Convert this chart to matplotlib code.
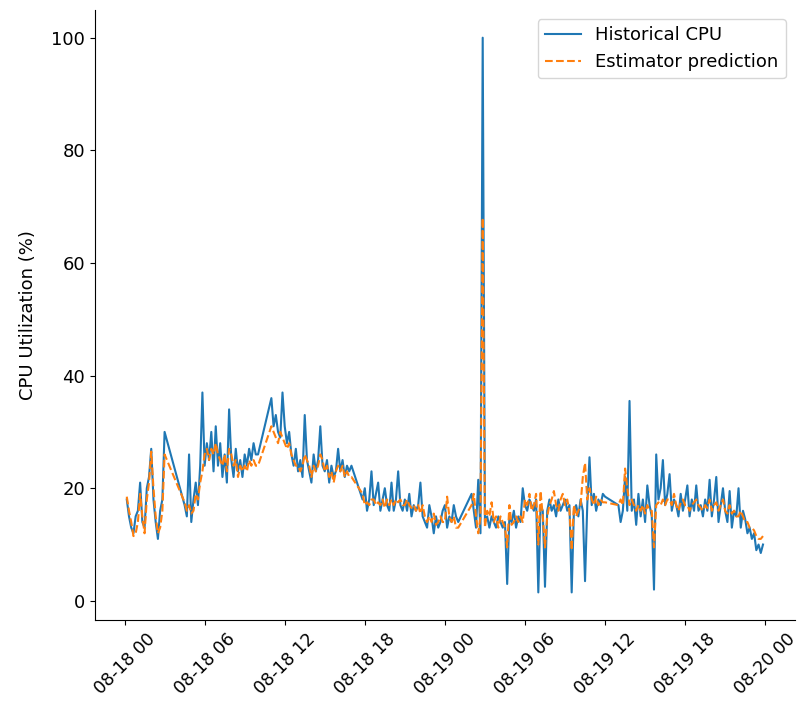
import pandas as pd
import matplotlib
matplotlib.use("Agg")
import matplotlib.pyplot as plt
import matplotlib.dates as mdates

# 10-minute samples, split where the monitoring data has gaps
seg_starts = ["2023-08-18 00:10", "2023-08-18 04:30", "2023-08-18 11:00",
              "2023-08-18 17:50", "2023-08-19 02:00", "2023-08-19 13:00"]

hist_1 = [18, 15, 13, 12, 15,
          16, 21, 14, 13, 20, 22,
          27, 18, 14, 11, 16, 18,
          30]
pred_1 = [18.5, 16, 14, 11.5, 12,
          14, 19, 15, 12, 18, 21,
          26.5, 20, 15, 12, 13, 16,
          26]

hist_2 = [17, 15, 26,
          14, 18, 21, 17, 24, 37,
          24, 28, 25, 30, 23, 31,
          24, 28, 22, 26, 21, 34,
          25, 22, 27, 23, 25, 22,
          26, 24, 27, 25, 28, 26,
          26]
pred_2 = [17.5, 16, 17,
          15.5, 16, 19, 18, 21, 23,
          26, 27, 25, 27, 26, 28,
          26, 25, 24, 26, 23, 27,
          26, 24, 25, 22, 24, 23,
          24, 23, 25, 24, 25, 24,
          24]

hist_3 = [36, 31, 33, 30, 29, 37,
          31, 28, 30, 26, 24, 27,
          23, 25, 22, 33, 25, 23,
          21, 26, 23, 25, 31, 24,
          23, 25, 21, 24, 22, 23,
          27, 23, 25, 22, 24, 23,
          24]
pred_3 = [31, 30, 29, 28, 30, 29,
          28, 27, 28, 26, 25, 24,
          24, 23, 24, 26, 25, 24,
          22, 24, 23, 24, 26, 25,
          23, 24, 22, 23, 21, 23,
          24, 23, 24, 22, 23, 22,
          22]

hist_4 = [18,
          20, 16, 18, 23, 17, 19,
          21, 16, 18, 20, 17, 16,
          21, 16, 18, 23, 17, 16,
          18, 16, 19, 15, 17, 16,
          17, 21, 15, 14, 13, 17,
          15, 12, 15, 13, 14, 16,
          17, 13, 15, 14, 17, 15,
          14]
pred_4 = [19,
          17, 17.5, 17, 18, 18, 17,
          17.5, 17, 18, 16.5, 18, 17,
          18, 17, 18, 17.5, 18, 17,
          17, 18, 17, 16.5, 17, 16,
          17, 15.5, 17, 15, 14, 15,
          14, 15.5, 13.5, 14, 15, 14,
          14, 18.5, 15, 14, 15, 13,
          13]

hist_5 = [19, 16, 13, 21.5, 12, 100,
          14, 15, 13, 15, 14, 13,
          15, 14, 13, 14, 3, 15,
          14, 16, 13, 15, 14, 20,
          17, 16, 18, 17, 16, 18,
          1.5, 17, 16, 2.5, 16, 18,
          16, 17, 15, 18, 16, 17,
          18, 16, 17, 1.5, 16, 17,
          15, 18, 16, 3.5, 17, 25.5,
          17, 19, 16, 18, 17, 19,
          18.5]
pred_5 = [17, 19, 15, 12, 15, 68,
          13, 16, 15, 17.5, 14, 15,
          13, 15, 14, 13, 9.5, 17,
          13.5, 14, 15, 14, 15, 14,
          18, 17, 19, 16, 17, 19,
          10, 19.5, 15, 9.5, 15, 17,
          18, 19.5, 17, 16, 18, 19,
          17, 18, 16, 9, 17, 15,
          16, 17, 22, 24.5, 18, 20,
          18, 17, 18.5, 17, 18, 17.5,
          17.5]

hist_6 = [17, 14, 16, 22, 16, 35.5,
          16, 18, 13.5, 19, 15, 18,
          14, 20.5, 17, 15, 2, 26,
          18, 20, 25, 17, 19, 22.5,
          16, 18, 17, 15, 19, 16,
          18, 20.5, 15, 18, 16, 20.5,
          16, 17, 15, 18, 16, 21.5,
          15, 18, 22, 14, 17, 20,
          16, 14, 19.5, 13, 16, 15,
          20, 13, 16, 14.5, 12, 13,
          11, 12, 9, 10, 8.5, 10]
pred_6 = [17, 18, 17, 23.5, 20, 17,
          18, 17, 16, 17, 16, 17,
          15.5, 17, 16, 16, 9.5, 17,
          17.5, 17, 18, 17, 18, 18,
          17, 19, 17, 16, 17.5, 18,
          17, 17, 16, 17, 17.5, 18,
          17, 16.5, 16, 17, 16.5, 18,
          16, 17, 17.5, 16, 17, 18,
          16, 15.5, 17, 15.5, 16, 15,
          15, 16, 15, 14, 14, 13,
          13, 12.5, 11.5, 11, 11, 11.5]

hist_segs = [hist_1, hist_2, hist_3, hist_4, hist_5, hist_6]
pred_segs = [pred_1, pred_2, pred_3, pred_4, pred_5, pred_6]

frames = []
for start, h, p in zip(seg_starts, hist_segs, pred_segs):
    idx = pd.date_range(start, periods=len(h), freq="10min")
    frames.append(pd.DataFrame({"hist": h, "pred": p}, index=idx))
df = pd.concat(frames)

fig = plt.figure(figsize=(7.98, 7.12), dpi=100)
ax = fig.add_axes([0.119, 0.129, 0.877, 0.857])

ax.plot(df.index, df["hist"], color="tab:blue", linewidth=1.5, label="Historical CPU")
ax.plot(df.index, df["pred"], color="tab:orange", linewidth=1.5, linestyle="--",
        label="Estimator prediction")

ax.xaxis.set_major_locator(mdates.HourLocator(byhour=[0, 6, 12, 18]))
ax.xaxis.set_major_formatter(mdates.DateFormatter("%m-%d %H"))
ax.tick_params(axis="x", labelsize=12.5)
ax.tick_params(axis="y", labelsize=13)
plt.setp(ax.get_xticklabels(), rotation=45, ha="center")

ax.set_ylabel("CPU Utilization (%)", fontsize=13, labelpad=10)
ax.legend(loc="upper right", fontsize=13)

ax.spines["top"].set_visible(False)
ax.spines["right"].set_visible(False)

fig.savefig("out.png", dpi=100)
